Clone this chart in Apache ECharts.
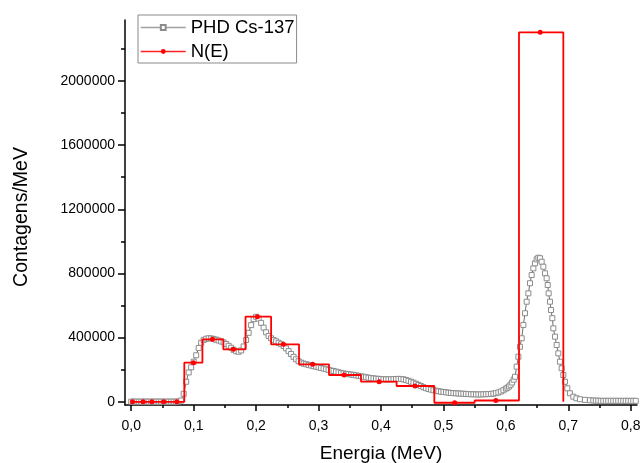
<!DOCTYPE html>
<html><head><meta charset="utf-8">
<script src="https://cdn.jsdelivr.net/npm/echarts@6/dist/echarts.min.js"></script>
<style>html,body{margin:0;padding:0;background:#fff}#c{width:641px;height:463px}</style>
</head><body><div id="c"></div>
<script>
// ---- Data ----
const phdEnergy = [
0.000,0.004,0.008,0.012,0.016,0.020,0.024,0.028,0.032,0.036,0.040,0.044,0.048,0.052,0.056,0.060,0.064,0.068,0.072,0.076,
0.080,0.084,0.088,0.092,0.096,0.100,0.104,0.108,0.112,0.116,0.120,0.124,0.128,0.132,0.136,0.140,0.144,0.148,0.152,0.156,
0.160,0.164,0.168,0.172,0.176,0.180,0.184,0.188,0.192,0.196,0.200,0.204,0.208,0.212,0.216,0.220,0.224,0.228,0.232,0.236,
0.240,0.244,0.248,0.252,0.256,0.260,0.264,0.268,0.272,0.276,0.280,0.284,0.288,0.292,0.296,0.300,0.304,0.308,0.312,0.316,
0.320,0.324,0.328,0.332,0.336,0.340,0.344,0.348,0.352,0.356,0.360,0.364,0.368,0.372,0.376,0.380,0.384,0.388,0.392,0.396,
0.400,0.404,0.408,0.412,0.416,0.420,0.424,0.428,0.432,0.436,0.440,0.444,0.448,0.452,0.456,0.460,0.464,0.468,0.472,0.476,
0.480,0.484,0.488,0.492,0.496,0.500,0.504,0.508,0.512,0.516,0.520,0.524,0.528,0.532,0.536,0.540,0.544,0.548,0.552,0.556,
0.560,0.564,0.568,0.572,0.576,0.580,0.584,0.588,0.592,0.596,0.600,
0.6025,0.605,0.6075,0.610,0.6125,0.6146,0.6173,0.620,0.6225,0.6253,0.628,0.6306,0.6333,0.636,0.6386,0.6413,0.644,0.6466,0.6493,0.652,
0.6546,0.6573,0.660,0.6626,0.6653,0.667,0.6685,0.6706,0.6723,0.6744,0.676,0.6786,0.6813,0.684,0.6866,0.6893,0.692,0.6946,0.6984,0.7026,
0.708,0.713,0.7186,0.7266,0.7346,0.740,0.744,0.748,0.752,0.756,0.760,0.764,0.768,0.772,0.776,0.780,0.784,0.788,0.792,0.796,
0.800,0.804,0.808
];
const phdCounts = [
1000,1000,1000,1000,1000,1000,1000,1000,1000,1000,1000,1000,1000,1000,1000,1000,1000,1000,1000,2000,
8000,50000,125000,183000,215000,250000,290000,335000,368000,386000,393000,396000,395000,392000,387000,382000,376000,370000,360000,349000,
337000,324000,315000,312000,320000,345000,385000,430000,478000,515000,530000,518000,492000,462000,433000,410000,396000,385000,377000,368000,
359000,348000,333000,316000,298000,280000,265000,253000,244000,238000,234000,230000,226000,222000,219000,215000,211000,207000,203000,199000,
195000,192000,188000,184000,180000,177000,174000,172000,170000,168000,165000,162000,159000,156000,153000,150000,148000,146000,144000,143000,
142000,141000,140000,140000,140000,141000,142000,143000,142000,140000,136000,131000,125000,119000,112000,105000,98000,91000,85000,80000,
76000,72000,69000,66000,63000,61000,59000,57000,55000,54000,53000,52000,51000,50000,49000,48000,47000,47000,46000,46000,
46000,47000,47000,48000,49000,51000,54000,58000,64000,72000,82000,
88000,96000,106000,120000,138000,156000,219000,281000,343000,396000,479000,552000,624000,676000,739000,790000,832000,863000,888000,898000,
895000,873000,842000,801000,770000,728000,676000,624000,572000,521000,458000,406000,354000,302000,250000,209000,167000,125000,84000,53000,
32000,22000,16000,12000,10000,8000,7000,7000,6000,6000,6000,6000,6000,6000,6000,6000,6000,6000,6000,6000,
6000,6000,6000
];
// N(E) histogram bins
const binEdges   = [0, 0.012, 0.026, 0.042, 0.062, 0.085, 0.114, 0.1475, 0.183, 0.224, 0.2687, 0.3167, 0.368, 0.425, 0.4854, 0.55, 0.621, 0.692];
const binCenters = [0.002, 0.019, 0.033, 0.052, 0.073, 0.0995, 0.130, 0.1635, 0.202, 0.2436, 0.2906, 0.341, 0.397, 0.4545, 0.518, 0.584, 0.655];
const binValues  = [0, 0, 0, 0, 0, 243700, 389600, 327300, 530500, 358500, 233800, 167100, 125300, 98500, -6000, 8000, 2303000];
const seriesNames = ['PHD Cs-137', 'N(E)'];
const xAxisTitle = 'Energia (MeV)';
const yAxisTitle = 'Contagens/MeV';

// ---- Layout ----
const X_MIN = -0.01, X_MAX = 0.81, Y_MIN = -20000, Y_MAX = 2380000;
const PL = 125, PT = 20, PW = 512, PH = 385;
const px = v => PL + (v - X_MIN) / (X_MAX - X_MIN) * PW;
const py = v => PT + PH - (v - Y_MIN) / (Y_MAX - Y_MIN) * PH;
const FONT = "'Liberation Sans', Arial, sans-serif";

const phdData = phdEnergy.map((e, i) => [e, phdCounts[i]]);
const neData = [];
for (let i = 0; i < binValues.length; i++) {
  neData.push({value: [binEdges[i], binValues[i]], symbol: 'none'});
  neData.push({value: [binCenters[i], binValues[i]]});
  neData.push({value: [binEdges[i + 1], binValues[i]], symbol: 'none'});
}
neData.push({value: [binEdges[binEdges.length - 1], 0], symbol: 'none'});

const blk = {color: '#000', width: 1.5};
const G = {containLabel: false, outerBoundsMode: 'none'};
const chart = echarts.init(document.getElementById('c'), null, {renderer: 'canvas'});
chart.setOption({
  animation: false,
  backgroundColor: '#fff',
  textStyle: {fontFamily: FONT},
  grid: [
    Object.assign({left: PL, top: PT, width: PW, height: PH}, G),
    Object.assign({left: px(0), top: 29, width: px(0.8) - px(0), height: PT + PH - 29}, G),
    Object.assign({left: PL, top: py(2000000), width: PW, height: py(0) - py(2000000)}, G),
    Object.assign({left: PL, top: py(2200000), width: PW, height: py(0) - py(2200000)}, G)
  ],
  legend: {
    orient: 'vertical', left: 138, top: 15, padding: [3, 2, 2, 2],
    borderColor: '#8a8a8a', borderWidth: 1,
    itemWidth: 45, itemHeight: 6, itemGap: 5,
    textStyle: {fontSize: 18.5, color: '#000', fontFamily: FONT, lineHeight: 18},
    data: [
      {name: seriesNames[0], lineStyle: {color: '#a0a0a0', width: 1.5}},
      {name: seriesNames[1], lineStyle: {color: '#ff2020', width: 1.5}}
    ]
  },
  xAxis: [
    {gridIndex: 0, type: 'value', min: X_MIN, max: X_MAX,
     axisLine: {show: true, onZero: false, lineStyle: blk}, axisTick: {show: false},
     axisLabel: {show: false}, splitLine: {show: false},
     name: xAxisTitle, nameLocation: 'middle', nameGap: 39,
     nameTextStyle: {fontSize: 19, color: '#000', fontFamily: FONT}},
    {gridIndex: 1, type: 'value', min: 0, max: 0.8, interval: 0.1,
     axisLine: {show: false, onZero: false},
     axisTick: {show: true, length: 6, lineStyle: blk},
     minorTick: {show: true, splitNumber: 2, length: 3, lineStyle: blk},
     axisLabel: {fontSize: 14, color: '#000', margin: 14, fontFamily: FONT,
                 formatter: v => v.toFixed(1).replace('.', ',')},
     splitLine: {show: false}, minorSplitLine: {show: false}},
    {gridIndex: 2, type: 'value', show: false, min: 0, max: 1},
    {gridIndex: 3, type: 'value', show: false, min: 0, max: 1}
  ],
  yAxis: [
    {gridIndex: 0, type: 'value', min: Y_MIN, max: Y_MAX,
     axisLine: {show: true, onZero: false, lineStyle: blk}, axisTick: {show: false},
     axisLabel: {show: false}, splitLine: {show: false}},
    {gridIndex: 1, type: 'value', min: 0, max: 1,
     axisLine: {show: false, onZero: false}, axisTick: {show: false},
     axisLabel: {show: false}, splitLine: {show: false},
     name: yAxisTitle, nameLocation: 'middle', nameGap: 100, nameRotate: 90,
     nameTextStyle: {fontSize: 19.5, color: '#000', fontFamily: FONT}},
    {gridIndex: 2, type: 'value', min: 0, max: 2000000, interval: 400000,
     axisLine: {show: false, onZero: false},
     axisTick: {show: true, length: 7, lineStyle: blk},
     axisLabel: {fontSize: 14, color: '#000', margin: 10, fontFamily: FONT,
                 formatter: v => String(v)},
     splitLine: {show: false}},
    {gridIndex: 3, type: 'value', min: 0, max: 2200000, interval: 200000,
     axisLine: {show: false, onZero: false},
     axisTick: {show: true, length: 4, lineStyle: blk},
     axisLabel: {show: false}, splitLine: {show: false}}
  ],
  series: [
    {name: seriesNames[0], type: 'line', xAxisIndex: 0, yAxisIndex: 0, data: phdData,
     symbol: 'rect', symbolSize: 5, showAllSymbol: true,
     itemStyle: {color: '#ffffff', borderColor: '#8c8c8c', borderWidth: 1},
     lineStyle: {color: '#6e6e6e', width: 1}, z: 2, emphasis: {disabled: true}},
    {name: seriesNames[1], type: 'line', xAxisIndex: 0, yAxisIndex: 0, data: neData,
     symbol: 'circle', symbolSize: 5, showAllSymbol: true,
     itemStyle: {color: '#ff0000'},
     lineStyle: {color: '#ff0000', width: 1.8}, z: 3, emphasis: {disabled: true}}
  ]
});
</script></body></html>
